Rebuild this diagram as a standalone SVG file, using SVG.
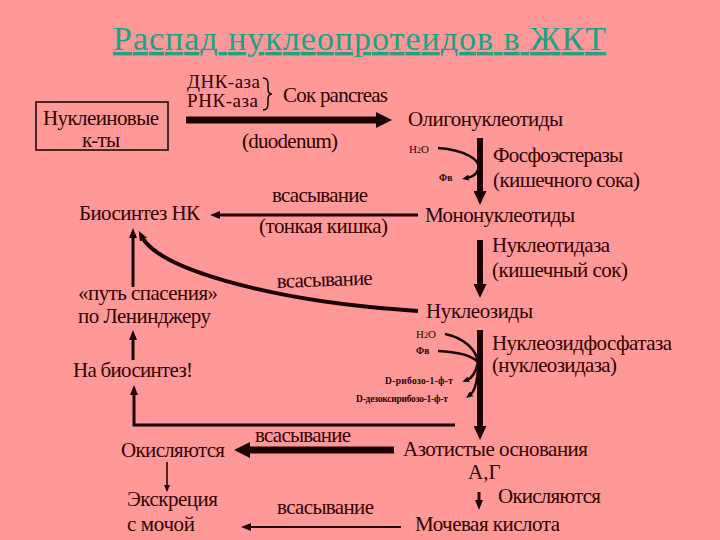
<svg xmlns="http://www.w3.org/2000/svg" width="720" height="540" viewBox="0 0 720 540" font-family="Liberation Serif">
<defs>
<marker id="mBig" markerUnits="userSpaceOnUse" markerWidth="16" markerHeight="16" refX="6" refY="8" orient="auto"><path d="M0,0 L16,8 L0,16 z" fill="#1a0000"/></marker>
<marker id="mMed" markerUnits="userSpaceOnUse" markerWidth="14" markerHeight="13" refX="4" refY="6.5" orient="auto"><path d="M0,0 L14,6.5 L0,13 z" fill="#1a0000"/></marker>
<marker id="mSm" markerUnits="userSpaceOnUse" markerWidth="10" markerHeight="8" refX="3" refY="4" orient="auto"><path d="M0,0 L10,4 L0,8 z" fill="#1a0000"/></marker>
<marker id="mTiny" markerUnits="userSpaceOnUse" markerWidth="7" markerHeight="6" refX="2" refY="3" orient="auto"><path d="M0,0 L7,3 L0,6 z" fill="#1a0000"/></marker>
</defs>
<rect width="720" height="540" fill="#FF9999"/>
<text font-family="Liberation Serif" font-size="34" fill="#23A083" text-decoration="underline" x="113" y="50" textLength="493">Распад нуклеопротеидов в ЖКТ</text>

<g id="connectors" fill="none" stroke="#1a0000">
<line x1="186" y1="120" x2="382" y2="120" stroke-width="7" marker-end="url(#mBig)"/>
<path d="M263,78 q5,0 5,6 v5 q0,5 4,5 q-4,0 -4,5 v5 q0,6 -5,6" stroke-width="1.5"/>
<line x1="480" y1="138" x2="480" y2="195" stroke-width="6" marker-end="url(#mMed)"/>
<path d="M438,148 C465,150 482,160 478,170 C476,175 472,177 467,178" stroke-width="2.5" marker-end="url(#mTiny)"/>
<line x1="418" y1="215" x2="217" y2="215" stroke-width="3" marker-end="url(#mSm)"/>
<line x1="480" y1="240" x2="480" y2="288" stroke-width="6" marker-end="url(#mMed)"/>
<path d="M418,311 L380,308 C270,298 160,270 142,237" stroke-width="4" marker-end="url(#mSm)"/>
<line x1="133" y1="287" x2="133" y2="235" stroke-width="3" marker-end="url(#mSm)"/>
<line x1="133" y1="360" x2="133" y2="337" stroke-width="3" marker-end="url(#mSm)"/>
<polyline points="455,425 134,425 134,392" stroke-width="3" marker-end="url(#mSm)"/>
<line x1="480" y1="330" x2="480" y2="430" stroke-width="6" marker-end="url(#mMed)"/>
<path d="M445,334 C465,338 476,350 478,362" stroke-width="2.5"/>
<path d="M438,351 C460,352 472,356 478,362" stroke-width="2.5"/>
<path d="M478,362 C476,372 472,378 467,380" stroke-width="2.5" marker-end="url(#mTiny)"/>
<path d="M478,368 C477,385 474,392 470,395" stroke-width="2.5" marker-end="url(#mTiny)"/>
<line x1="394" y1="450" x2="244" y2="450" stroke-width="7" marker-end="url(#mBig)"/>
<line x1="167" y1="462" x2="167" y2="487" stroke-width="1.5" marker-end="url(#mTiny)"/>
<line x1="479" y1="492" x2="479" y2="503" stroke-width="3" marker-end="url(#mSm)"/>
<line x1="401" y1="527" x2="248" y2="527" stroke-width="2" marker-end="url(#mSm)"/>
</g>

<g fill="#330000">
<g id="n-nucleic">
<rect x="36" y="102" width="132" height="48" fill="none" stroke="#1a0000" stroke-width="1.5"/>
<text font-family="Liberation Serif" font-size="21" x="43" y="125" textLength="116">Нуклеиновые</text>
<text font-family="Liberation Serif" font-size="21" x="82" y="147" textLength="38">к-ты</text>
</g>
<g id="n-enzymes1">
<text font-family="Liberation Serif" font-size="19" x="187" y="88" textLength="73">ДНК-аза</text>
<text font-family="Liberation Serif" font-size="19" x="187" y="107" textLength="71">РНК-аза</text>
<text font-family="Liberation Serif" font-size="21" x="283" y="102" textLength="105">Сок pancreas</text>
<text font-family="Liberation Serif" font-size="21" x="242" y="148" textLength="96">(duodenum)</text>
</g>
<g id="n-oligo"><text font-family="Liberation Serif" font-size="21" x="408" y="126" textLength="155">Олигонуклеотиды</text></g>
<g id="n-phospho">
<text font-family="Liberation Serif" font-size="11" x="409" y="153">H<tspan font-size="8">2</tspan>O</text>
<text font-family="Liberation Serif" font-size="9.5" font-weight="bold" x="439" y="181">Фв</text>
<text font-family="Liberation Serif" font-size="21" x="493" y="162" textLength="130">Фосфоэстеразы</text>
<text font-family="Liberation Serif" font-size="21" x="493" y="187" textLength="147">(кишечного сока)</text>
</g>
<g id="n-mono"><text font-family="Liberation Serif" font-size="21" x="425" y="222" textLength="150">Мононуклеотиды</text></g>
<g id="n-abs1">
<text font-family="Liberation Serif" font-size="21" x="272" y="202" textLength="96">всасывание</text>
<text font-family="Liberation Serif" font-size="21" x="259" y="233" textLength="129">(тонкая кишка)</text>
</g>
<g id="n-biosynth"><text font-family="Liberation Serif" font-size="21" x="79" y="220" textLength="121">Биосинтез НК</text></g>
<g id="n-nucleotidase">
<text font-family="Liberation Serif" font-size="21" x="492" y="252" textLength="118">Нуклеотидаза</text>
<text font-family="Liberation Serif" font-size="21" x="492" y="277" textLength="136">(кишечный сок)</text>
</g>
<g id="n-abs2"><text font-family="Liberation Serif" font-size="21" x="277" y="288" textLength="96" transform="rotate(-2 277 288)">всасывание</text></g>
<g id="n-salvage">
<text font-family="Liberation Serif" font-size="21" x="78" y="300" textLength="140">«путь спасения»</text>
<text font-family="Liberation Serif" font-size="21" x="78" y="323" textLength="133">по Ленинджеру</text>
</g>
<g id="n-nucleosides"><text font-family="Liberation Serif" font-size="21" x="426" y="318" textLength="107">Нуклеозиды</text></g>
<g id="n-nucleosidase">
<text font-family="Liberation Serif" font-size="11" x="416" y="338">H<tspan font-size="8">2</tspan>O</text>
<text font-family="Liberation Serif" font-size="9.5" font-weight="bold" x="416" y="354">Фв</text>
<text font-family="Liberation Serif" font-size="21" x="492" y="350" textLength="180">Нуклеозидфосфатаза</text>
<text font-family="Liberation Serif" font-size="21" x="492" y="372" textLength="125">(нуклеозидаза)</text>
<text font-family="Liberation Serif" font-size="9.5" font-weight="bold" x="385" y="384" textLength="68">D-рибозо-1-ф-т</text>
<text font-family="Liberation Serif" font-size="9.5" font-weight="bold" x="356" y="402" textLength="92">D-дезоксирибозо-1-ф-т</text>
</g>
<g id="n-tobiosynth"><text font-family="Liberation Serif" font-size="21" x="73" y="377" textLength="120">На биосинтез!</text></g>
<g id="n-bases">
<text font-family="Liberation Serif" font-size="21" x="403" y="456" textLength="185">Азотистые основания</text>
<text font-family="Liberation Serif" font-size="21" x="468" y="479">А,Г</text>
</g>
<g id="n-abs3"><text font-family="Liberation Serif" font-size="21" x="255" y="442" textLength="96">всасывание</text></g>
<g id="n-oxid1"><text font-family="Liberation Serif" font-size="21" x="121" y="457" textLength="104">Окисляются</text></g>
<g id="n-oxid2"><text font-family="Liberation Serif" font-size="21" x="498" y="503" textLength="103">Окисляются</text></g>
<g id="n-excretion">
<text font-family="Liberation Serif" font-size="21" x="127" y="506" textLength="91">Экскреция</text>
<text font-family="Liberation Serif" font-size="21" x="127" y="531" textLength="68">с мочой</text>
</g>
<g id="n-abs4"><text font-family="Liberation Serif" font-size="21" x="277" y="514" textLength="97">всасывание</text></g>
<g id="n-uric"><text font-family="Liberation Serif" font-size="21" x="415" y="531" textLength="145">Мочевая кислота</text></g>
</g>
</svg>
